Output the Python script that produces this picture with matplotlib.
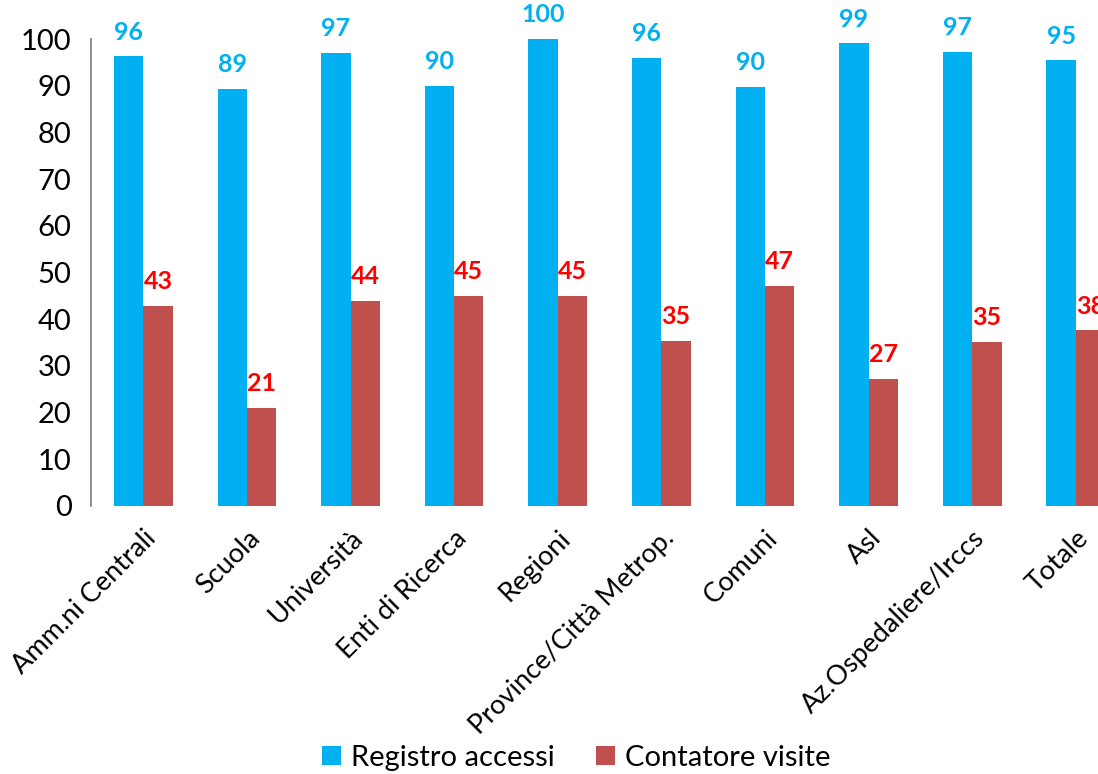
import matplotlib
matplotlib.use("Agg")
import matplotlib.pyplot as plt
import numpy as np

categories = ["Amm.ni Centrali", "Scuola", "Università", "Enti di Ricerca", "Regioni",
              "Province/Città Metrop.", "Comuni", "Asl", "Az.Ospedaliere/Irccs", "Totale"]
registro = [96.3, 89.4, 97.0, 90.0, 100.0, 96.0, 89.8, 99.1, 97.3, 95.4]
contatore = [42.8, 21.0, 43.9, 45.0, 45.0, 35.3, 47.1, 27.2, 35.1, 37.6]
series_names = ["Registro accessi", "Contatore visite"]
yticks = [0, 10, 20, 30, 40, 50, 60, 70, 80, 90, 100]

BLUE = "#00B0F0"
RED = "#C0504D"
FONT = "Lato"

plt.rcParams['font.family'] = [FONT, 'DejaVu Sans']

fig = plt.figure(figsize=(10.98, 7.74), dpi=100)
ax = fig.add_axes([91 / 1098, 1 - 506 / 774, 1036.6 / 1098, 467 / 774])

x = np.arange(len(categories))
w = 0.283
b1 = ax.bar(x - w / 2, registro, w, color=BLUE, label=series_names[0])
b2 = ax.bar(x + w / 2, contatore, w, color=RED, label=series_names[1])

for xi, v in zip(x - w / 2, registro):
    ax.annotate(f"{round(v):d}", (xi, v), xytext=(0, 12), textcoords="offset points",
                ha="center", va="baseline", color=BLUE, fontsize=18, fontweight="bold",
                annotation_clip=False)
for xi, v in zip(x + w / 2, contatore):
    ax.annotate(f"{round(v):d}", (xi, v), xytext=(0, 12), textcoords="offset points",
                ha="center", va="baseline", color="#FF0000", fontsize=18, fontweight="bold",
                annotation_clip=False)

ax.set_xlim(-0.505, len(categories) - 0.5)
ax.set_ylim(0, 100)
ax.set_yticks(yticks)
ax.set_yticklabels([str(t) for t in yticks], fontsize=21)
ax.tick_params(axis="y", length=0, pad=14)
ax.tick_params(axis="x", length=0, pad=14)
ax.set_xticks(x)
ax.set_xticklabels(categories, rotation=45, ha="right", rotation_mode="anchor", fontsize=19.5)

for s in ["top", "right", "bottom"]:
    ax.spines[s].set_visible(False)
ax.spines["left"].set_color("#868686")
ax.spines["left"].set_linewidth(1.3)

fig.legend(handles=[b1, b2], loc="center", bbox_to_anchor=(576 / 1098, 1 - 758 / 774),
           ncol=2, frameon=False, fontsize=21, handlelength=0.65, handleheight=0.65,
           handletextpad=0.35, columnspacing=1.4, borderaxespad=0)

fig.savefig("out.png", dpi=100)
